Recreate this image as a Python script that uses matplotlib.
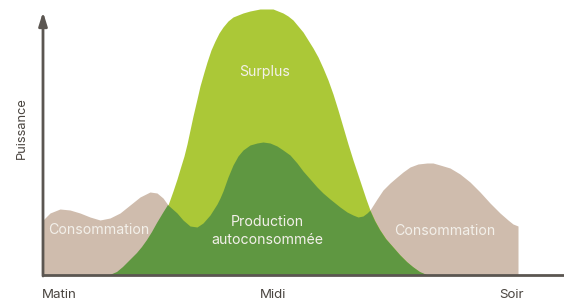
import matplotlib
matplotlib.use("Agg")
import matplotlib.pyplot as plt

plt.rcParams["font.family"] = ["Inter", "DejaVu Sans"]

# Consommation (beige) : temps (u.a.) / puissance (u.a.)
conso_x = [0, 7, 17, 27, 37, 47, 57, 67, 77, 87, 97, 107, 114, 120, 125, 134,
           140, 147, 154, 160, 167, 174, 177, 180, 185, 190, 195, 200, 207, 214,
           220, 227, 234, 240, 247, 254, 260, 267, 274, 280, 287, 297, 304, 310,
           315, 320, 324, 327, 334, 340, 347, 354, 360, 367, 375, 384, 390, 397,
           407, 417, 427, 437, 447, 457, 465, 470, 475]
conso_y = [55, 62, 66, 65, 62, 58, 55, 57, 62, 70, 78, 83, 82, 77, 70, 62,
           55, 49, 48, 52, 60, 71, 77, 84, 98, 110, 119, 125, 130, 132,
           133, 132, 129, 125, 120, 112, 104, 96, 88, 82, 76, 68, 63, 60,
           58, 59, 62, 65, 76, 85, 92, 98, 103, 108, 111, 112, 112, 110,
           107, 101, 93, 83, 72, 62, 55, 51, 49]

# Production solaire
prod_x = [67, 74, 80, 87, 94, 99, 104, 109, 114, 120, 125, 130, 134, 137, 141,
          144, 147, 150, 154, 157, 161, 164, 168, 172, 176, 180, 185, 190, 195,
          200, 207, 217, 224, 230, 235, 240, 245, 250, 255, 260, 265, 270, 275,
          280, 285, 290, 295, 300, 305, 310, 315, 319, 323, 327, 332, 337, 343,
          350, 357, 364, 370, 377, 384]
prod_y = [0, 3, 8, 15, 22, 28, 35, 43, 52, 62, 70, 84, 96, 106, 119,
          131, 145, 159, 176, 189, 203, 213, 225, 234, 242, 248, 254, 258, 260,
          262, 264, 266, 266, 266, 264, 262, 259, 255, 249, 243, 235, 227, 218,
          207, 195, 181, 165, 148, 131, 115, 100, 88, 76, 65, 54, 45, 36,
          28, 20, 13, 8, 3, 0]

tick_pos = [16, 230, 468]
tick_labels = ["Matin", "Midi", "Soir"]

BEIGE = "#cfbcad"
LIGHT = "#abc837"
DARK = "#5f9741"
AXIS = "#5b5651"
TXT = "#f3f0ea"

fig = plt.figure(figsize=(5.64, 3.01), dpi=100)
ax = fig.add_axes([0, 0, 1, 1])
ax.set_xlim(-43, 521)
ax.set_ylim(-26, 275)
ax.axis("off")

ax.fill_between(conso_x, conso_y, 0, color=BEIGE, lw=0)
prod = ax.fill_between(prod_x, prod_y, 0, color=LIGHT, lw=0)
# autoconsommation = partie de la conso sous la courbe de production
auto = ax.fill_between(conso_x, conso_y, 0, color=DARK, lw=0)
auto.set_clip_path(prod.get_paths()[0], transform=ax.transData)

# axes with arrows
ax.plot([0, 521], [0, 0], color=AXIS, lw=2, solid_capstyle="butt")
ax.annotate("", xy=(0, 263), xytext=(0, -1),
            arrowprops=dict(arrowstyle="-|>,head_width=0.25,head_length=0.8",
                            color=AXIS, lw=2, shrinkA=0, shrinkB=0))

for x, lab in zip(tick_pos, tick_labels):
    ax.text(x, -20, lab, ha="center", va="center", fontsize=9.6, color="#4a4540")
ax.text(-21, 147, "Puissance", rotation=90, ha="center", va="center",
        fontsize=9.2, color="#4a4540")

fs = 10.2
ax.text(56, 45, "Consommation", ha="center", va="center", fontsize=fs, color=TXT)
ax.text(402, 44, "Consommation", ha="center", va="center", fontsize=fs, color=TXT)
ax.text(222, 203, "Surplus", ha="center", va="center", fontsize=fs, color=TXT)
ax.text(224, 53, "Production", ha="center", va="center", fontsize=fs, color=TXT)
ax.text(224, 35, "autoconsommée", ha="center", va="center", fontsize=fs, color=TXT)

fig.savefig("out.png", dpi=100)
